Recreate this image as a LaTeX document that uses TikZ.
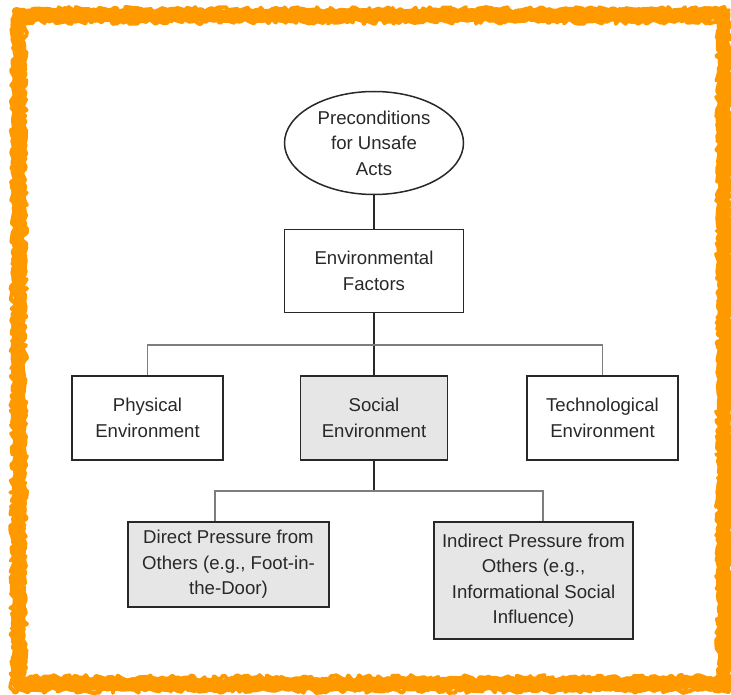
\documentclass[tikz,border=0pt]{standalone}
\usepackage{fontspec}
\setmainfont{Liberation Sans}
\usetikzlibrary{shapes.geometric,decorations.pathmorphing}
\definecolor{frameorange}{RGB}{255,153,0}
\definecolor{boxgray}{RGB}{230,230,230}
\definecolor{ink}{RGB}{40,40,40}
\tikzset{
  box/.style={draw=ink, line width=1.5pt, rectangle, align=center, text=ink,
    font=\fontsize{18.6}{25.5}\selectfont, inner sep=0pt},
  shaded/.style={box, fill=boxgray},
  trunk/.style={draw=ink, line width=1.3pt},
  branch/.style={draw=ink!60, line width=1.1pt},
  rough/.style={draw=frameorange, decorate, decoration={random steps, segment length=4pt, amplitude=2.2pt}, line join=round}
}
\begin{document}
\begin{tikzpicture}[x=1pt,y=-1pt]
\useasboundingbox (0,0) rectangle (731,695);
% frame
\pgfmathsetseed{42}
\draw[rough, line width=13pt] (19,15) -- (724,15) -- (724,684) -- (19,684) -- cycle;
\draw[rough, line width=4pt, decoration={random steps, segment length=3pt, amplitude=3pt}] (14,10) -- (729,10) -- (729,690) -- (13,690) -- cycle;
\draw[rough, line width=4pt, decoration={random steps, segment length=3pt, amplitude=3pt}] (24,21) -- (719,21) -- (719,678) -- (24,678) -- cycle;
% nodes
\node[box, ellipse, minimum width=179pt, minimum height=103pt] (pre) at (374,143) {Preconditions\\for Unsafe\\Acts};
\node[box, minimum width=179pt, minimum height=83pt] (env) at (374,271) {Environmental\\Factors};
\node[box, minimum width=151pt, minimum height=84pt] (phys) at (147.5,418) {Physical\\Environment};
\node[shaded, minimum width=147pt, minimum height=84pt] (soc) at (374,418) {Social\\Environment};
\node[box, minimum width=151pt, minimum height=84pt] (tech) at (602.5,418) {Technological\\Environment};
\node[shaded, minimum width=201pt, minimum height=85pt] (dir) at (228.5,564.5) {Direct Pressure from\\Others (e.g., Foot-in-\\the-Door)};
\node[shaded, minimum width=199pt, minimum height=117pt] (ind) at (533.5,580.5) {Indirect Pressure from\\Others (e.g.,\\Informational Social\\Influence)};
% connectors
\coordinate (h1) at (374,345);
\coordinate (h2) at (374,491);
\draw[trunk] (pre.south) -- (env.north);
\draw[trunk] (env.south) -- (soc.north);
\draw[branch] (phys.north) |- (h1) -| (tech.north);
\draw[trunk] (soc.south) -- (h2);
\draw[branch] (dir.north -| 215,0) |- (h2) -| (ind.north -| 543,0);
\end{tikzpicture}
\end{document}
